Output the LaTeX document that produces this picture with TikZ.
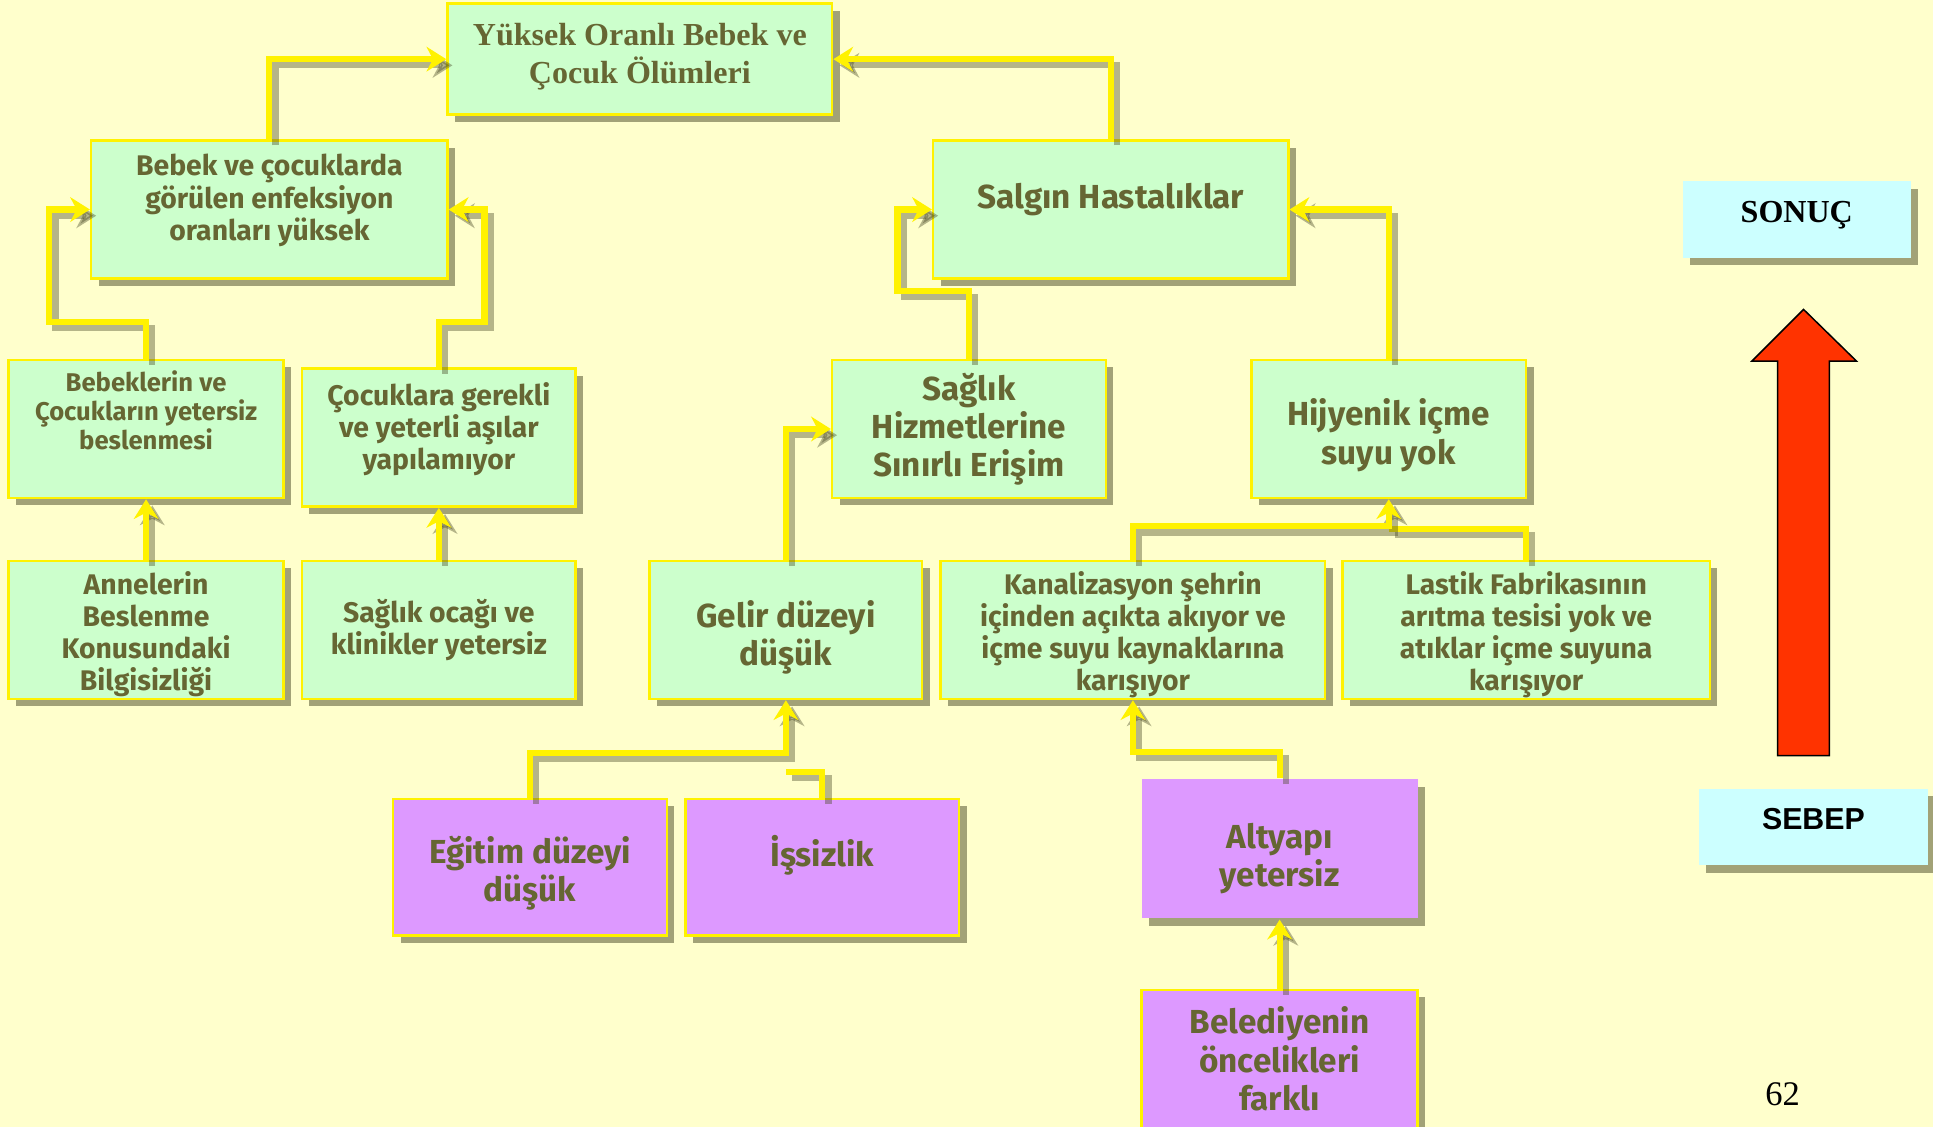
\documentclass[tikz,border=0pt]{standalone}
\usepackage{fontspec}
\setmainfont{Liberation Serif}
\newfontfamily\comicfont{Fira Sans}
\newfontfamily\arialfont{Liberation Sans}
\usetikzlibrary{calc,shadows,arrows.meta}
\definecolor{bgyellow}{HTML}{FFFFCC}
\definecolor{boxgreen}{HTML}{CCFFCC}
\definecolor{boxpurple}{HTML}{DD99FF}
\definecolor{boxcyan}{HTML}{CCFFFF}
\definecolor{olivetext}{HTML}{666633}
\definecolor{arrowred}{HTML}{FF3300}
\newcommand{\toppad}[1]{\rule{0pt}{#1}}
\newcommand{\botpad}[1]{\rule[-#1]{0pt}{0pt}}
\begin{document}
\begin{tikzpicture}[x=0.5pt,y=-0.5pt,
		size/.style 2 args={minimum width=#1*0.5pt, minimum height=#2*0.5pt},
		box/.style={draw=yellow, line width=1pt, text=olivetext, align=center, inner sep=2pt,
			drop shadow={shadow xshift=3pt, shadow yshift=-3pt, fill=olivetext!70!black, opacity=0.5}},
		gbox/.style={box, fill=boxgreen},
		pbox/.style={box, fill=boxpurple},
		small/.style={font=\comicfont\bfseries\fontsize{11.5}{13}\selectfont},
		big/.style={font=\comicfont\bfseries\fontsize{13.5}{15.5}\selectfont},
		keybox/.style={fill=boxcyan, text=black, align=center,
			drop shadow={shadow xshift=3pt, shadow yshift=-3pt, fill=olivetext!70!black, opacity=0.5}},
		line/.style={draw=yellow, line width=2.5pt,
			preaction={draw=olivetext!70!black, line width=2.5pt, opacity=0.4, transform canvas={shift={(2.5pt,-2.5pt)}}}},
		link/.style={line, -{Stealth[length=8pt,width=10pt]}}]
		\useasboundingbox (0,0) rectangle (1568,914);
		\clip (0,0) rectangle (1568,914);
		\fill[bgyellow] (0,0) rectangle (1568,914);
		\node[gbox, size={312}{90}, font=\bfseries\fontsize{13}{15.5}\selectfont] (yuksek) at (519,48) {Yüksek Oranlı Bebek ve\\Çocuk Ölümleri\botpad{5pt}};
		\node[gbox, small, size={289}{112}] (enfeksiyon) at (218.5,170) {Bebek ve çocuklarda\\görülen enfeksiyon\\oranları yüksek\botpad{10pt}};
		\node[gbox, big, size={288}{112}] (salgin) at (901,170) {Salgın Hastalıklar\botpad{11pt}};
		\node[gbox, size={223}{112}, font=\comicfont\bfseries\fontsize{10.4}{11.75}\selectfont] (beslenme) at (118.5,348) {Bebeklerin ve\\Çocukların yetersiz\\beslenmesi\botpad{15pt}};
		\node[gbox, small, size={222}{112}] (asi) at (356,355) {Çocuklara gerekli\\ve yeterli aşılar\\yapılamıyor\botpad{9.5pt}};
		\node[gbox, big, size={222}{112}] (saglik) at (786,348) {Sağlık\\Hizmetlerine\\Sınırlı Erişim};
		\node[gbox, big, size={223}{112}] (hijyen) at (1126.5,348) {\toppad{16pt}Hijyenik içme\\suyu yok};
		\node[gbox, small, size={223}{112}, inner ysep=0pt] (anne) at (118.5,511) {\toppad{13pt}Annelerin\\Beslenme\\Konusundaki\\Bilgisizliği};
		\node[gbox, small, size={222}{112}] (ocak) at (356,511) {Sağlık ocağı ve\\klinikler yetersiz};
		\node[gbox, big, size={221}{112}] (gelir) at (637.5,511) {\toppad{17pt}Gelir düzeyi\\düşük};
		\node[gbox, small, size={312}{112}, inner ysep=0pt] (kanal) at (919,511) {\toppad{13pt}Kanalizasyon şehrin\\içinden açıkta akıyor ve\\içme suyu kaynaklarına\\karışıyor};
		\node[gbox, small, size={298}{112}, inner ysep=0pt] (lastik) at (1238,511) {\toppad{13pt}Lastik Fabrikasının\\arıtma tesisi yok ve\\atıklar içme suyuna\\karışıyor};
		\node[pbox, big, size={222}{111}] (egitim) at (430,703.5) {\toppad{16pt}Eğitim düzeyi\\düşük};
		\node[pbox, big, size={222}{111}] (issiz) at (667,703.5) {İşsizlik\botpad{13pt}};
		\node[pbox, big, size={224}{113}, draw=none] (altyapi) at (1038,688.5) {\toppad{18pt}Altyapı\\yetersiz};
		\node[pbox, big, size={224}{112}] (belediye) at (1038,859) {Belediyenin\\öncelikleri\\farklı};
		\node[keybox, size={185}{62}, font=\bfseries\fontsize{13}{15}\selectfont] (sonuc) at (1457.5,178) {SONUÇ\botpad{6pt}};
		\node[keybox, size={186}{62}, font=\arialfont\bfseries\fontsize{12.3}{14}\selectfont] (sebep) at (1471,671) {SEBEP\botpad{7pt}};
		\draw[fill=arrowred, line width=0.6pt] (1442,613) -- (1442,293) -- (1421,293) -- (1463,251) -- (1506,293) -- (1484,293) -- (1484,613) -- cycle;
		\node[font=\fontsize{14}{16}\selectfont] (sayfa) at (1446,888) {62};
		\draw[link] (enfeksiyon.north) |- (yuksek.west);
		\draw[link] (salgin.north) |- (yuksek.east);
		\draw[link] (beslenme.north) -- ++(0,-30) -| ($(enfeksiyon.west)+(-33,0)$) -- (enfeksiyon.west);
		\draw[link] (asi.north) -- ++(0,-37) -| ($(enfeksiyon.east)+(29,0)$) -- (enfeksiyon.east);
		\draw[link] (saglik.north) -- ++(0,-55) -| ($(salgin.west)+(-28,0)$) -- (salgin.west);
		\draw[link] (hijyen.north) |- (salgin.east);
		\draw[link] (anne.north) -- (beslenme.south);
		\draw[link] (ocak.north) -- (asi.south);
		\draw[link] (gelir.north) |- (saglik.west);
		\draw[line] (lastik.north) |- ($(hijyen.south)+(0,24)$);
		\draw[link] (kanal.north) -- ++(0,-27) -| (hijyen.south);
		\draw[line] (issiz.north) |- ($(gelir.south)+(0,58)$);
		\draw[link] (egitim.north) -- ++(0,-36) -| (gelir.south);
		\draw[link] (altyapi.north) -- ++(0,-21) -| (kanal.south);
		\draw[link] (belediye.north) -- (altyapi.south);
\end{tikzpicture}
\end{document}
